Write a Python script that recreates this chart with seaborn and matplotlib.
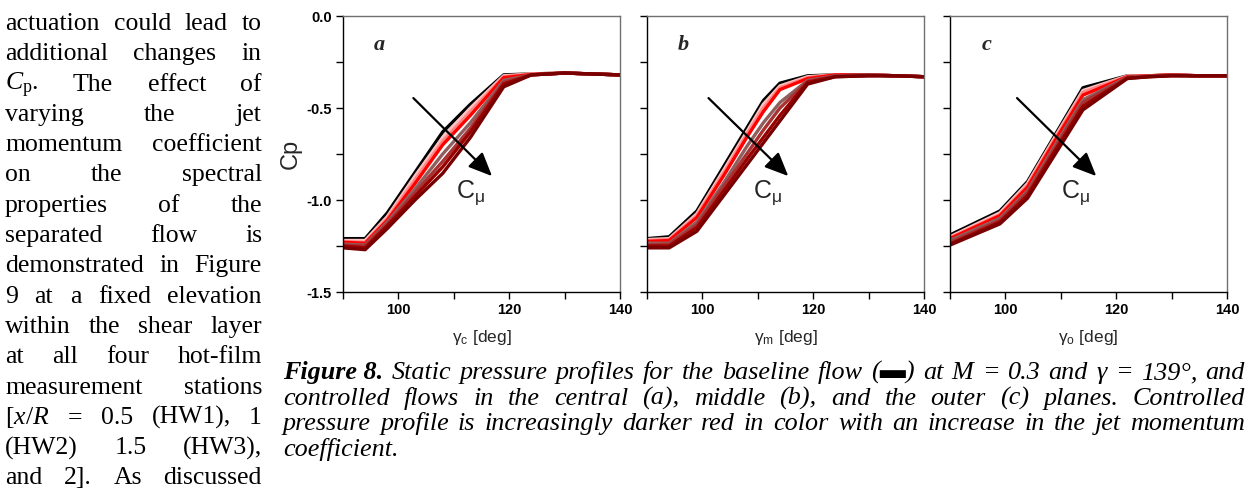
import matplotlib
matplotlib.use("Agg")
import matplotlib.pyplot as plt
import seaborn as sns
import pandas as pd

# ---------------- data ----------------
case_names = ["baseline", "c1", "c2", "c3", "c4", "c5", "c6", "c7"]
line_colors = ["#000000", "#ffc2c2", "#ff8585", "#ff0000", "#8f5f5f",
               "#a83232", "#990000", "#780000"]

gamma_a = [90, 94, 98, 103, 108, 113, 119, 124, 130, 135, 140]
cp_a = [
    [-1.21, -1.21, -1.07, -0.85, -0.63, -0.48, -0.32, -0.315, -0.31, -0.315, -0.32],
    [-1.22, -1.22, -1.09, -0.87, -0.66, -0.50, -0.325, -0.315, -0.31, -0.315, -0.32],
    [-1.225, -1.23, -1.10, -0.89, -0.68, -0.52, -0.33, -0.315, -0.31, -0.315, -0.32],
    [-1.23, -1.235, -1.11, -0.91, -0.70, -0.54, -0.335, -0.318, -0.31, -0.315, -0.32],
    [-1.24, -1.245, -1.12, -0.94, -0.75, -0.58, -0.35, -0.32, -0.31, -0.315, -0.32],
    [-1.245, -1.25, -1.13, -0.96, -0.79, -0.61, -0.36, -0.32, -0.31, -0.315, -0.32],
    [-1.25, -1.26, -1.14, -0.98, -0.82, -0.63, -0.37, -0.32, -0.31, -0.315, -0.32],
    [-1.26, -1.27, -1.155, -1.00, -0.855, -0.66, -0.385, -0.32, -0.31, -0.315, -0.32],
]

gamma_b = [90, 94, 99, 104, 108, 111, 114, 119, 124, 130, 135, 140]
cp_b = [
    [-1.21, -1.20, -1.06, -0.81, -0.61, -0.46, -0.365, -0.325, -0.32, -0.32, -0.325, -0.33],
    [-1.215, -1.21, -1.075, -0.83, -0.63, -0.48, -0.38, -0.33, -0.32, -0.32, -0.325, -0.33],
    [-1.22, -1.215, -1.085, -0.845, -0.645, -0.50, -0.39, -0.335, -0.32, -0.32, -0.325, -0.33],
    [-1.225, -1.22, -1.095, -0.86, -0.66, -0.52, -0.40, -0.34, -0.32, -0.32, -0.325, -0.33],
    [-1.235, -1.235, -1.12, -0.90, -0.71, -0.58, -0.47, -0.35, -0.325, -0.32, -0.325, -0.33],
    [-1.245, -1.24, -1.135, -0.92, -0.75, -0.62, -0.50, -0.355, -0.325, -0.32, -0.325, -0.33],
    [-1.25, -1.25, -1.15, -0.945, -0.78, -0.66, -0.54, -0.36, -0.33, -0.325, -0.325, -0.33],
    [-1.26, -1.26, -1.17, -0.97, -0.81, -0.69, -0.57, -0.37, -0.33, -0.325, -0.325, -0.33],
]

gamma_c = [90, 99, 104, 109, 114, 122, 126, 130, 135, 140]
cp_c = [
    [-1.19, -1.06, -0.90, -0.645, -0.39, -0.325, -0.325, -0.32, -0.325, -0.325],
    [-1.20, -1.07, -0.91, -0.655, -0.405, -0.326, -0.325, -0.32, -0.325, -0.325],
    [-1.205, -1.08, -0.92, -0.665, -0.415, -0.328, -0.325, -0.32, -0.325, -0.325],
    [-1.21, -1.085, -0.93, -0.675, -0.43, -0.33, -0.325, -0.32, -0.325, -0.325],
    [-1.22, -1.10, -0.95, -0.70, -0.455, -0.333, -0.327, -0.322, -0.325, -0.325],
    [-1.23, -1.11, -0.96, -0.715, -0.47, -0.335, -0.328, -0.322, -0.325, -0.325],
    [-1.24, -1.12, -0.975, -0.73, -0.49, -0.338, -0.33, -0.325, -0.325, -0.325],
    [-1.245, -1.13, -0.99, -0.75, -0.51, -0.34, -0.33, -0.325, -0.325, -0.325],
]

panel_letters = ["a", "b", "c"]
x_labels = [r"$\mathsf{\gamma_c}$ [deg]", r"$\mathsf{\gamma_m}$ [deg]", r"$\mathsf{\gamma_o}$ [deg]"]
x_ticks = [90, 100, 110, 120, 130, 140]
x_ticklabels = ["", "100", "", "120", "", "140"]
y_ticks = [0.0, -0.25, -0.5, -0.75, -1.0, -1.25, -1.5]
y_ticklabels = ["0.0", "", "-0.5", "", "-1.0", "", "-1.5"]

body_lines = [
    "actuation could lead to",
    "additional changes in",
    r"$C_\mathrm{p}$.  The effect of",
    "varying the jet",
    "momentum coefficient",
    "on the spectral",
    "properties of the",
    "separated flow is",
    "demonstrated in Figure",
    "9 at a fixed elevation",
    "within the shear layer",
    "at all four hot-film",
    "measurement stations",
    r"[$x$/$R$ = 0.5 (HW1), 1",
    "(HW2) 1.5 (HW3),",
    "and 2]. As discussed",
]
caption_lines = [
    "Figure 8.|Static pressure profiles for the baseline flow (\u25ac) at M = 0.3 and \u03b3 = 139\u00b0, and",
    "controlled flows in the central (a), middle (b), and the outer (c) planes. Controlled",
    "pressure profile is increasingly darker red in color with an increase in the jet momentum",
    "coefficient.",
]

# ---------------- style ----------------
sns.set_style("ticks")
plt.rcParams["font.family"] = ["Liberation Sans", "DejaVu Sans"]
plt.rcParams["mathtext.fontset"] = "custom"
plt.rcParams["mathtext.rm"] = "Liberation Serif"
plt.rcParams["mathtext.it"] = "Liberation Serif:italic"
plt.rcParams["mathtext.bf"] = "Liberation Serif:bold"
plt.rcParams["mathtext.sf"] = "Liberation Sans"

W, H = 1249, 491
fig = plt.figure(figsize=(W / 100, H / 100), dpi=100)


def fx(px):
    return px / W


def fy(py):
    return 1 - py / H


ax_left_px = [343, 647, 950]
ax_w_px = 277
ax_top_px, ax_bot_px = 16, 292

panels = [(gamma_a, cp_a), (gamma_b, cp_b), (gamma_c, cp_c)]
arrow_start = [(102.7, -0.446), (101.1, -0.446), (102.1, -0.446)]
arrow_end = [(116.9, -0.87), (115.5, -0.87), (116.4, -0.87)]
cmu_pos = [(113.0, -0.96), (111.7, -0.96), (112.6, -0.96)]

for i, (gam, cps) in enumerate(panels):
    ax = fig.add_axes([fx(ax_left_px[i]), fy(ax_bot_px), ax_w_px / W,
                       (ax_bot_px - ax_top_px) / H])
    rows = []
    for name, vals in zip(case_names, cps):
        for g, v in zip(gam, vals):
            rows.append({"gamma": g, "cp": v, "case": name})
    df = pd.DataFrame(rows)
    sns.lineplot(data=df, x="gamma", y="cp", hue="case", hue_order=case_names,
                 palette=dict(zip(case_names, line_colors)), linewidth=2.4,
                 legend=False, ax=ax, sort=False, estimator=None)
    ax.set_xlim(90, 140)
    ax.set_ylim(-1.5, 0.0)
    ax.set_xticks(x_ticks)
    ax.set_xticklabels(x_ticklabels, fontweight="bold")
    ax.set_yticks(y_ticks)
    if i == 0:
        ax.set_yticklabels(y_ticklabels, fontweight="bold")
        ax.set_ylabel("Cp", fontsize=17, labelpad=3)
    else:
        ax.set_yticklabels([""] * len(y_ticks))
        ax.set_ylabel("")
    ax.set_xlabel(x_labels[i], fontsize=12.5, labelpad=8)
    ax.tick_params(direction="out", length=5, width=1, labelsize=10.5,
                   colors="black", pad=3)
    for side in ["left", "bottom"]:
        ax.spines[side].set_color("black")
        ax.spines[side].set_linewidth(1.0)
    for side in ["top", "right"]:
        ax.spines[side].set_visible(True)
        ax.spines[side].set_color("#707070")
        ax.spines[side].set_linewidth(1.0)
    ax.text(96.6, -0.157, panel_letters[i], fontsize=16, fontstyle="italic",
            fontweight="bold", family="Liberation Serif", ha="center", va="center")
    ax.annotate("", xy=arrow_end[i], xytext=arrow_start[i],
                arrowprops=dict(arrowstyle="-|>,head_length=0.8,head_width=0.35",
                                color="black", lw=1.6, mutation_scale=18,
                                shrinkA=0, shrinkB=0))
    ax.text(cmu_pos[i][0], cmu_pos[i][1], r"$\mathsf{C_{\mu}}$", fontsize=18,
            ha="center", va="center")

# ---------------- surrounding page text ----------------
renderer = fig.canvas.get_renderer()


def measure(s, kw):
    t = fig.text(0, 0, s, **kw)
    w = t.get_window_extent(renderer).width
    t.remove()
    return w


def place_line(tokens, x0, x1, y_base, justify=True):
    objs, widths = [], []
    for s, kw in tokens:
        t = fig.text(fx(x0), fy(y_base), s, va="baseline", ha="left", **kw)
        objs.append(t)
        widths.append(t.get_window_extent(renderer).width)
    kw0 = tokens[-1][1]
    sw = measure("a b", kw0) - measure("ab", kw0)
    if justify and len(objs) > 1:
        gap = (x1 - x0 - sum(widths)) / (len(objs) - 1)
    else:
        gap = sw
    x = x0
    for t, w in zip(objs, widths):
        t.set_x(fx(x))
        x += w + gap


body_kw = dict(family="Liberation Serif", fontsize=18.5, color="black")
for k, line in enumerate(body_lines):
    toks = [(w, body_kw) for w in line.split()]
    place_line(toks, 5, 262, 30 + 30.3 * k, justify=True)

# caption: size chosen so the longest line fits the text block width
cap_x0, cap_x1 = 283, 1245
base_size = 16.0
probe = dict(family=["Liberation Serif", "DejaVu Sans"], fontsize=base_size,
             fontstyle="italic")
nat = measure(caption_lines[2], probe)
cap_size = base_size * 0.96 * (cap_x1 - cap_x0) / nat
cap_kw = dict(family=["Liberation Serif", "DejaVu Sans"], fontsize=cap_size,
              fontstyle="italic", color="black")
cap_bold = dict(cap_kw, fontweight="bold")
for k, line in enumerate(caption_lines):
    toks = []
    if "|" in line:
        head, rest = line.split("|")
        toks.append((head, cap_bold))
        line = rest
    toks += [(w, cap_kw) for w in line.split()]
    place_line(toks, cap_x0, cap_x1, 379 + 25.7 * k, justify=(k < 3))

fig.savefig("out.png", dpi=100)
